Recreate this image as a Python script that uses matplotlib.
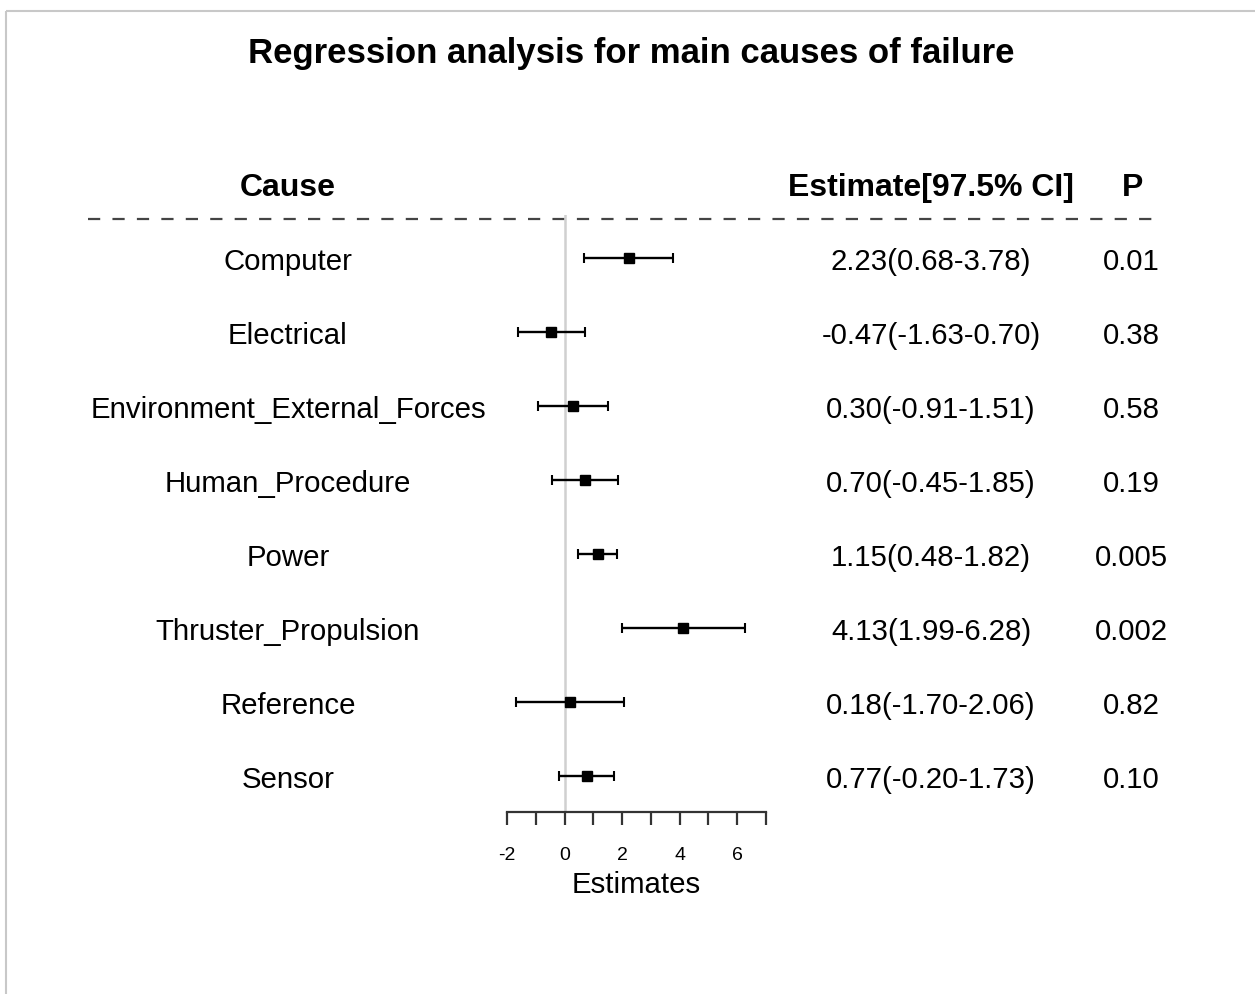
import numpy as np
import matplotlib.pyplot as plt
from matplotlib.patches import Rectangle

plt.rcParams["font.family"] = ["Liberation Sans", "DejaVu Sans"]

# regression results per failure cause
causes = ["Computer", "Electrical", "Environment_External_Forces",
          "Human_Procedure", "Power", "Thruster_Propulsion",
          "Reference", "Sensor"]
estimates = [2.23, -0.47, 0.30, 0.70, 1.15, 4.13, 0.18, 0.77]
ci_low = [0.68, -1.63, -0.91, -0.45, 0.48, 1.99, -1.70, -0.20]
ci_high = [3.78, 0.70, 1.51, 1.85, 1.82, 6.28, 2.06, 1.73]
p_values = ["0.01", "0.38", "0.58", "0.19", "0.005", "0.002", "0.82", "0.10"]
x_ticks = list(range(-2, 8))
x_ticklabels = ["-2", "", "0", "", "2", "", "4", "", "6", ""]

W, H = 1255, 994
fig = plt.figure(figsize=(W / 100, H / 100), dpi=100)

# full-figure layer in pixel units for the table text
bg = fig.add_axes([0, 0, 1, 1])
bg.set_xlim(0, W)
bg.set_ylim(H, 0)
bg.axis("off")
bg.add_patch(Rectangle((6, 11), W + 50, H + 50, fill=False,
                       ec="#c8c8c8", lw=1.5))

row0, step = 258, 74
col_cause, col_est, col_p = 288, 931, 1131
fs = 21.2
fs_head = 23
fs_title = 25

bg.text(631, 54, "Regression analysis for main causes of failure",
        ha="center", va="center", fontsize=fs_title, fontweight="bold")
bg.text(col_cause, 188, "Cause", ha="center", va="center",
        fontsize=fs_head, fontweight="bold")
bg.text(col_est, 188, "Estimate[97.5% CI]", ha="center", va="center",
        fontsize=fs_head, fontweight="bold")
bg.text(col_p + 2, 188, "P", ha="center", va="center",
        fontsize=fs_head, fontweight="bold")
bg.plot([88, 1160], [219, 219], color="#444444", lw=1.6,
        ls=(0, (5.5, 5.5)))

for i, (c, e, lo, hi, p) in enumerate(zip(causes, estimates, ci_low,
                                          ci_high, p_values)):
    y = row0 + i * step
    bg.text(col_cause, y + 4, c, ha="center", va="center", fontsize=fs)
    bg.text(col_est, y + 4, f"{e:.2f}({lo:.2f}-{hi:.2f})",
            ha="center", va="center", fontsize=fs)
    bg.text(col_p, y + 4, p, ha="center", va="center", fontsize=fs)

# forest plot panel: x from -2 to 7, rows indexed from the top
ax_top, ax_bot = 215, 812
ax = fig.add_axes([507 / W, 1 - ax_bot / H, (766 - 507) / W,
                   (ax_bot - ax_top) / H])
ax.patch.set_alpha(0)
n = len(causes)
ypos = np.arange(n)
ax.set_xlim(-2, 7)
ax.set_ylim(n - 1 + (ax_bot - (row0 + (n - 1) * step)) / step,
            -(row0 - ax_top) / step)
ax.axvline(0, color="#d0d0d0", lw=1.8, zorder=0)

est = np.array(estimates)
err = np.vstack([est - np.array(ci_low), np.array(ci_high) - est])
ax.errorbar(est, ypos, xerr=err, fmt="s", color="black", ms=6.5,
            elinewidth=1.7, capsize=3.5, capthick=1.5)

for side in ("top", "right", "left"):
    ax.spines[side].set_visible(False)
ax.spines["bottom"].set_linewidth(1.6)
ax.spines["bottom"].set_color("#333333")
ax.set_yticks([])
ax.set_xticks(x_ticks)
ax.set_xticklabels(x_ticklabels)
ax.tick_params(axis="x", length=9, width=1.6, color="#333333",
               labelsize=14, pad=16)

bg.text((507 + 766) / 2, 885, "Estimates", ha="center", va="center",
        fontsize=fs)

fig.savefig("out.png", dpi=100)
